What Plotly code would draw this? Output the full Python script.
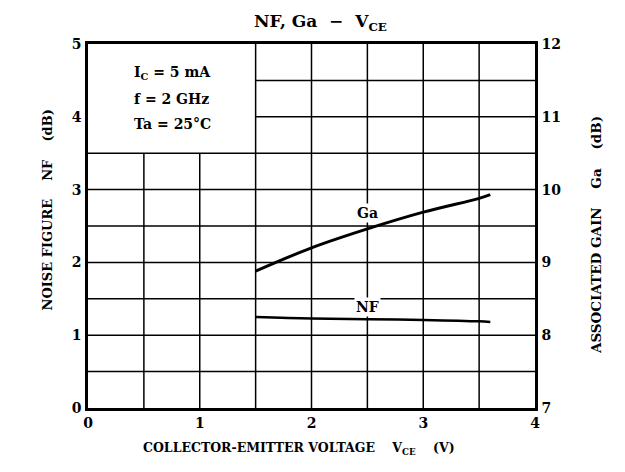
import plotly.graph_objects as go

# Data
vce = [1.5, 2.0, 2.5, 3.0, 3.5, 3.6]
ga_db = [8.88, 9.20, 9.46, 9.69, 9.88, 9.93]
nf_db = [1.25, 1.23, 1.22, 1.21, 1.19, 1.18]

x_ticks = [0, 1, 2, 3, 4]
nf_ticks = [0, 1, 2, 3, 4, 5]
ga_ticks = [7, 8, 9, 10, 11, 12]

FONT = "DejaVu Serif"

fig = go.Figure()
fig.add_trace(go.Scatter(x=vce, y=nf_db, mode="lines", line=dict(color="black", width=2.5, shape="spline"),
                         showlegend=False, yaxis="y"))
fig.add_trace(go.Scatter(x=vce, y=ga_db, mode="lines", line=dict(color="black", width=3, shape="spline"),
                         showlegend=False, yaxis="y2"))

shapes = []
gl = dict(color="black", width=1.5)
for xv in [0.5, 1.0]:
    shapes.append(dict(type="line", xref="x", yref="y", x0=xv, x1=xv, y0=0, y1=3.5, line=gl, layer="below"))
for xv in [1.5, 2.0, 2.5, 3.0, 3.5]:
    shapes.append(dict(type="line", xref="x", yref="y", x0=xv, x1=xv, y0=0, y1=5, line=gl, layer="below"))
for yv in [0.5, 1.0, 1.5, 2.0, 2.5, 3.0, 3.5]:
    shapes.append(dict(type="line", xref="x", yref="y", x0=0, x1=4, y0=yv, y1=yv, line=gl, layer="below"))
for yv in [4.0, 4.5]:
    shapes.append(dict(type="line", xref="x", yref="y", x0=1.5, x1=4, y0=yv, y1=yv, line=gl, layer="below"))

tf = dict(family=FONT, size=14, color="black", weight="bold")
annotations = [
    dict(x=0.39, y=4.6, xref="x", yref="y", text="I<sub>C</sub> = 5 mA", showarrow=False, xanchor="left", font=tf),
    dict(x=0.39, y=4.24, xref="x", yref="y", text="f = 2 GHz", showarrow=False, xanchor="left", font=tf),
    dict(x=0.39, y=3.9, xref="x", yref="y", text="Ta = 25°C", showarrow=False, xanchor="left", font=tf),
    dict(x=2.5, y=2.68, xref="x", yref="y", text="Ga", showarrow=False, font=tf, bgcolor="white"),
    dict(x=2.5, y=1.39, xref="x", yref="y", text="NF", showarrow=False, font=tf, bgcolor="white"),
    dict(x=0.52, y=1.0, xref="paper", yref="paper", yshift=8, text="NF, Ga  −  V<sub>CE</sub>",
         showarrow=False, yanchor="bottom", font=dict(family=FONT, size=17, color="black", weight="bold")),
    dict(x=-0.112, y=0.5, xref="paper", yref="paper", yshift=16, text="NOISE FIGURE    NF    (dB)", textangle=-90,
         showarrow=False, font=dict(family=FONT, size=13, color="black", weight="bold")),
    dict(x=1.159, y=0.5, xref="paper", yref="paper", yshift=-9, text="ASSOCIATED GAIN    Ga    (dB)", textangle=-90,
         showarrow=False, font=dict(family=FONT, size=13.5, color="black", weight="bold")),
    dict(x=0.472, y=0, xref="paper", yref="paper", yshift=-30, text="COLLECTOR-EMITTER VOLTAGE    V<sub>CE</sub>    (V)",
         showarrow=False, yanchor="top", font=dict(family=FONT, size=12.5, color="black", weight="bold")),
]

tickfont = dict(family=FONT, size=14, color="black", weight="bold")
fig.update_layout(
    width=617, height=464,
    margin=dict(l=80, r=90, t=36, b=64, autoexpand=False),
    paper_bgcolor="white", plot_bgcolor="white",
    shapes=shapes, annotations=annotations,
    xaxis=dict(range=[0, 4], tickvals=x_ticks, showgrid=False, zeroline=False, automargin=False,
               showline=True, linecolor="black", linewidth=2.5, mirror=True,
               ticks="", tickfont=tickfont, ticklabelstandoff=0),
    yaxis=dict(range=[0, 5], tickvals=nf_ticks, showgrid=False, zeroline=False, automargin=False,
               showline=True, linecolor="black", linewidth=2.5, mirror=True,
               ticks="", tickfont=tickfont, ticklabelstandoff=1),
    yaxis2=dict(range=[7, 12], tickvals=ga_ticks, overlaying="y", side="right", showgrid=False,
                zeroline=False, showline=True, linecolor="black", linewidth=2.5, automargin=False,
                ticks="", tickfont=tickfont, ticklabelstandoff=1),
)

fig.write_html("out.html")
